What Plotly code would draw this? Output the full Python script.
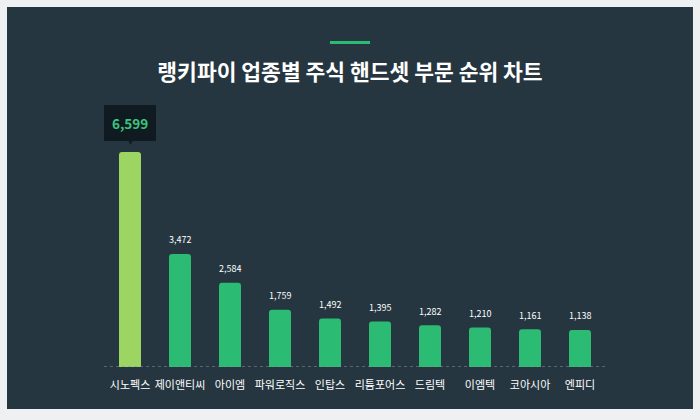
import plotly.graph_objects as go

companies = ['시노펙스', '제이앤티씨', '아이엠', '파워로직스', '인탑스', '리튬포어스', '드림텍', '이엠텍', '코아시아', '엔피디']
scores = [6599, 3472, 2584, 1759, 1492, 1395, 1282, 1210, 1161, 1138]

title = '랭키파이 업종별 주식 핸드셋 부문 순위 차트'
font_kr = 'Noto Sans CJK KR'

colors = ['#9dd563'] + ['#2cbb72'] * (len(scores) - 1)

fig = go.Figure(go.Bar(
    x=companies, y=scores,
    marker=dict(color=colors, line_width=0, cornerradius=3),
    width=0.44, hoverinfo='skip',
))

# value labels above the bars (first one gets a tooltip box)
for name, v in zip(companies[1:], scores[1:]):
    fig.add_annotation(x=name, y=v, text=f'{v:,}', showarrow=False, yshift=14,
                       font=dict(family=font_kr, size=9, color='#ffffff'))

fig.add_annotation(x=companies[0], y=scores[0], text=f'<b>{scores[0]:,}</b>', showarrow=False,
                   yshift=29, bgcolor='#0f1b21', borderpad=8, borderwidth=0,
                   font=dict(family=font_kr, size=13.5, color='#3cc47c'))
fig.add_annotation(x=companies[0], y=scores[0], text='▼', showarrow=False, yshift=10,
                   font=dict(size=7, color='#0f1b21'))

# dark panel + baseline + accent line
fig.add_shape(type='rect', xref='paper', yref='paper', x0=-0.1936, x1=1.1756, y0=-0.157, y1=1.348,
              fillcolor='#253640', line_width=0, layer='below')
fig.add_shape(type='line', xref='paper', yref='y', x0=0, x1=1, y0=0, y1=0,
              line=dict(color='#8d979c', width=1, dash='dot'))
fig.add_shape(type='line', xref='paper', yref='paper', x0=0.451, x1=0.531, y0=1.215, y1=1.215,
              line=dict(color='#2cbb72', width=3))

fig.update_layout(
    width=700, height=420,
    margin=dict(l=104, r=95, t=100, b=53),
    paper_bgcolor='#eef0f1', plot_bgcolor='rgba(0,0,0,0)',
    title=dict(text=f'<b>{title}</b>', x=0.5, xanchor='center', y=0.828, yanchor='middle',
               font=dict(family=font_kr, size=21.5, color='#ffffff')),
    xaxis=dict(showgrid=False, zeroline=False, showline=False, ticks='', ticklabelstandoff=10,
               tickfont=dict(family=font_kr, size=11, color='#ffffff')),
    yaxis=dict(range=[0, 8195], visible=False, showgrid=False, zeroline=False),
    showlegend=False,
)

fig.write_html('out.html', config={'displayModeBar': False},
               post_script="document.body.style.margin='0';")
